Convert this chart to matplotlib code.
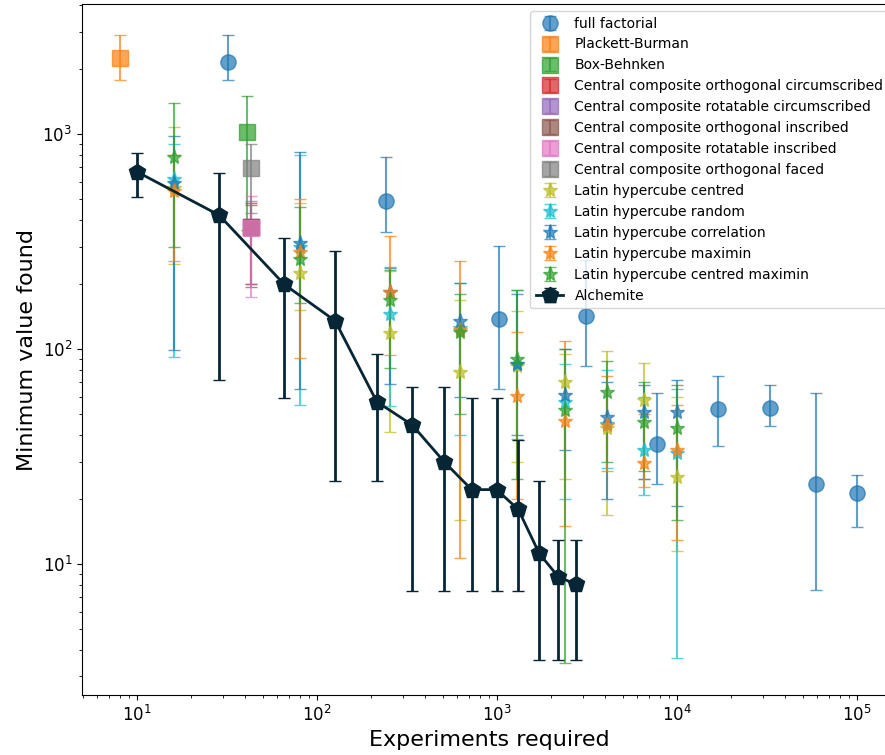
import numpy as np
import matplotlib.pyplot as plt

# Full factorial (k^5 experiments)
ff_x = [32, 243, 1024, 3125, 7776, 16807, 32768, 59049, 100000]
ff_y = [2163, 488, 138, 143, 36.1, 52.6, 53.3, 23.7, 21.5]
ff_lo = [1783, 349, 65, 83.4, 23.5, 35.4, 44, 7.6, 14.9]
ff_hi = [2885, 779, 301, 260, 62.3, 75.2, 68.2, 62.3, 26.1]

# Single-point designs: x, y, low, high
pb = (8, 2249, 1795, 2885)
bb = (41, 1018, 360, 1507)
ccoc = (43, 370, 200, 480)
ccrc = (43, 370, 200, 490)
ccoi = (43, 370, 195, 470)
ccri = (43, 367, 174, 516)
ccof = (43, 697, 430, 900)

# Latin hypercube variants (k^4 experiments)
lhc_x = [16, 81, 256, 625, 1296, 2401, 4096, 6561, 10000]
lhc_c_y = [560, 225, 119, 78, 83, 70, 43, 58, 25.5]
lhc_c_lo = [250, 152, 41, 16, 30, 25, 17, 25, 11.5]
lhc_c_hi = [1081, 480, 230, 170, 150, 95, 98, 86, 60]
lhc_r_y = [618, 300, 145, 125, 85, 57, 45, 34, 32.7]
lhc_r_lo = [92, 55, 54.5, 40, 38, 20, 28, 21, 3.64]
lhc_r_hi = [900, 800, 240, 203, 188, 85, 80, 60, 65]
lhc_corr_y = [590, 312, 185, 135.5, 85, 61, 48.5, 50.8, 50.8]
lhc_corr_lo = [99, 65, 68.6, 60, 40, 34, 20, 25, 18.6]
lhc_corr_hi = [982, 822, 239, 203, 180, 100, 70, 68, 72]
lhc_m_y = [543, 284, 185, 122.5, 60.7, 46.4, 44.3, 29.4, 34.1]
lhc_m_lo = [258, 91, 94, 10.7, 20, 15, 27, 22.9, 13]
lhc_m_hi = [800, 500, 336, 258, 120, 109, 75, 50, 55]
lhc_cm_y = [782, 262, 170, 120, 89.8, 52, 63, 46, 42.8]
lhc_cm_lo = [299, 164, 81.8, 50, 25, 3.46, 30, 27, 16]
lhc_cm_hi = [1389, 459, 233, 180, 188, 100, 88, 70, 68]

# Alchemite
al_x = [10, 28.6, 65.8, 126, 215, 338, 509, 723, 995, 1313, 1718, 2190, 2750]
al_y = [668, 420, 200, 135.5, 56.9, 44.4, 29.9, 22.2, 22.2, 17.96, 11.2, 8.73, 8.05]
al_lo = [511, 71.8, 59.5, 24.4, 24.4, 7.5, 7.5, 7.5, 7.5, 7.5, 3.58, 3.58, 3.58]
al_hi = [813, 657, 327, 285.6, 94.8, 66.4, 66.4, 59, 59, 37.6, 24.4, 12.9, 12.9]


def err(y, lo, hi):
    y, lo, hi = np.atleast_1d(y), np.atleast_1d(lo), np.atleast_1d(hi)
    return [y - lo, hi - y]


fig = plt.figure(figsize=(8.85, 7.55), dpi=100)
# the right spine sits just past the edge of the picture
ax = fig.add_axes([82 / 885, 60 / 755, 814 / 885, 691 / 755])

kw = dict(linestyle="none", alpha=0.7, capsize=4, elinewidth=1.5, markersize=11)

ax.errorbar(ff_x, ff_y, yerr=err(ff_y, ff_lo, ff_hi), marker="o",
            color="C0", label="full factorial", **kw)
singles = [(pb, "C1", "Plackett-Burman"),
           (bb, "C2", "Box-Behnken"),
           (ccoc, "C3", "Central composite orthogonal circumscribed"),
           (ccrc, "C4", "Central composite rotatable circumscribed"),
           (ccoi, "C5", "Central composite orthogonal inscribed"),
           (ccri, "C6", "Central composite rotatable inscribed"),
           (ccof, "C7", "Central composite orthogonal faced")]
for (x, y, lo, hi), c, name in singles:
    ax.errorbar([x], [y], yerr=err(y, lo, hi), marker="s", color=c,
                label=name, **kw)

lhc = [(lhc_c_y, lhc_c_lo, lhc_c_hi, "C8", "Latin hypercube centred"),
       (lhc_r_y, lhc_r_lo, lhc_r_hi, "C9", "Latin hypercube random"),
       (lhc_corr_y, lhc_corr_lo, lhc_corr_hi, "C0", "Latin hypercube correlation"),
       (lhc_m_y, lhc_m_lo, lhc_m_hi, "C1", "Latin hypercube maximin"),
       (lhc_cm_y, lhc_cm_lo, lhc_cm_hi, "C2", "Latin hypercube centred maximin")]
for y, lo, hi, c, name in lhc:
    ax.errorbar(lhc_x, y, yerr=err(y, lo, hi), marker="*", color=c,
                label=name, **kw)

ax.errorbar(al_x, al_y, yerr=err(al_y, al_lo, al_hi), marker="p",
            color="#062635", linewidth=2, elinewidth=2, capsize=4,
            markersize=12, label="Alchemite")

ax.set_xscale("log")
ax.set_yscale("log")
ax.set_xlim(4.95, 164800)
ax.set_ylim(2.46, 4030)
ax.tick_params(labelsize=12)
ax.set_xlabel("Experiments required", fontsize=16)
ax.set_ylabel("Minimum value found", fontsize=16)
ax.legend(loc="upper right", fontsize=10)

fig.savefig("out.png", dpi=100)
